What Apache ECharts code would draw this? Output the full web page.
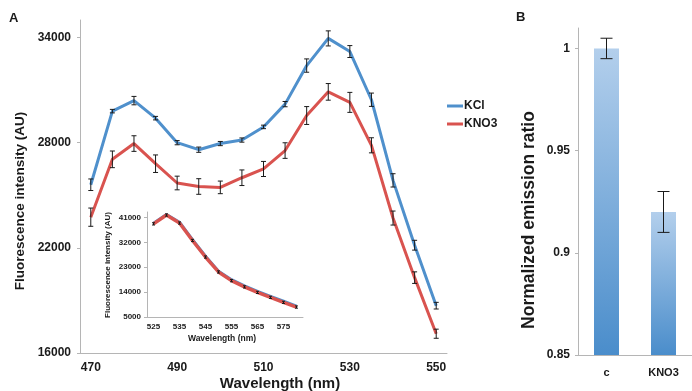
<!DOCTYPE html>
<html><head><meta charset="utf-8">
<script src="https://cdn.jsdelivr.net/npm/echarts@6/dist/echarts.min.js"></script>
<style>html,body{margin:0;padding:0;background:#fff}#c{width:692px;height:391px}</style>
</head><body><div id="c"></div>
<script>
// ---- Panel A main data ----
const wavelengths = ['470','475','480','485','490','495','500','505','510','515','520','525','530','535','540','545','550'];
const kclValues  = [25600, 29800, 30400, 29400, 28000, 27600, 27950, 28150, 28900, 30200, 32400, 33950, 33200, 30450, 25850, 22150, 18700];
const kclErr     = [330, 100, 240, 100, 120, 150, 120, 120, 100, 150, 380, 430, 340, 380, 380, 280, 190];
const kno3Values = [23750, 27050, 27950, 26800, 25700, 25500, 25450, 26000, 26500, 27550, 29550, 30900, 30300, 27850, 23700, 20300, 17100];
const kno3Err    = [520, 475, 445, 500, 390, 445, 360, 445, 430, 445, 510, 475, 570, 430, 400, 330, 260];
const mainYTicks = [16000, 22000, 28000, 34000];

// ---- Panel A inset data ----
const insetWavelengths = ['525','530','535','540','545','550','555','560','565','570','575','580'];
const insetKcl  = [38900, 42100, 39300, 33000, 27000, 21600, 18500, 16300, 14300, 12500, 10700, 8900];
const insetKno3 = [38700, 41900, 39000, 32700, 26700, 21300, 18150, 15900, 13900, 12100, 10300, 8600];
const insetErr  = [400, 400, 400, 400, 400, 400, 400, 400, 400, 400, 400, 400];
const insetYTicks = [5000, 14000, 23000, 32000, 41000];

// ---- Panel B data ----
const barCategories = ['c', 'KNO3'];
const ratioValues = [1.0, 0.92];
const ratioErr = [0.005, 0.01];
const barYTicks = [0.85, 0.9, 0.95, 1];

const FONT = '"Liberation Sans", Arial, sans-serif';
const AXIS_GRAY = '#b5b5b5';
const BLUE = '#4f90cc';
const RED = '#d9534f';

function errData(vals, errs) { return vals.map((v, i) => [i, v - errs[i], v + errs[i]]); }
function errRender(cap) {
  return function (params, api) {
    const x = api.value(0);
    const lo = api.coord([x, api.value(1)]);
    const hi = api.coord([x, api.value(2)]);
    const st = { stroke: '#1a1a1a', lineWidth: 1 };
    return { type: 'group', children: [
      { type: 'line', shape: { x1: lo[0], y1: lo[1], x2: hi[0], y2: hi[1] }, style: st },
      { type: 'line', shape: { x1: lo[0] - cap, y1: lo[1], x2: lo[0] + cap, y2: lo[1] }, style: st },
      { type: 'line', shape: { x1: hi[0] - cap, y1: hi[1], x2: hi[0] + cap, y2: hi[1] }, style: st }
    ]};
  };
}
const lbl = (size) => ({ color: '#1a1a1a', fontFamily: FONT, fontWeight: 'bold', fontSize: size });
const plain = v => String(+(+v).toFixed(2));

const chart = echarts.init(document.getElementById('c'), null, { renderer: 'canvas' });
chart.setOption({
  animation: false,
  backgroundColor: '#fff',
  textStyle: { fontFamily: FONT },
  legend: {
    data: ['KCl', 'KNO3'], orient: 'vertical', left: 442, top: 95, itemGap: 6,
    icon: 'rect', itemWidth: 16, itemHeight: 3,
    textStyle: { color: '#1a1a1a', fontFamily: FONT, fontWeight: 'bold', fontSize: 12, padding: [0, 0, 0, -4] },
    selectedMode: false
  },
  grid: [
    { left: 80, top: 20, width: 367, height: 333 },
    { left: 147, top: 212, width: 156, height: 105 },
    { left: 578, top: 28, width: 121, height: 327 }
  ],
  xAxis: [
    { gridIndex: 0, type: 'category', data: wavelengths, boundaryGap: true,
      axisLine: { lineStyle: { color: AXIS_GRAY, width: 1 } },
      axisTick: { interval: 0, length: 3, lineStyle: { color: AXIS_GRAY } },
      axisLabel: Object.assign({ interval: 3, margin: 9 }, lbl(12)), splitLine: { show: false } },
    { gridIndex: 1, type: 'category', data: insetWavelengths, boundaryGap: true,
      axisLine: { lineStyle: { color: AXIS_GRAY, width: 1 } },
      axisTick: { interval: 0, length: 3, lineStyle: { color: AXIS_GRAY } },
      axisLabel: Object.assign({ interval: 1, margin: 6 }, lbl(8)), splitLine: { show: false } },
    { gridIndex: 2, type: 'category', data: barCategories, boundaryGap: true,
      axisLine: { lineStyle: { color: AXIS_GRAY, width: 1 } },
      axisTick: { interval: 0, length: 3, lineStyle: { color: AXIS_GRAY } },
      axisLabel: Object.assign({ interval: 0, margin: 12 }, lbl(11)), splitLine: { show: false } }
  ],
  yAxis: [
    { gridIndex: 0, type: 'value', min: 16000, max: 35000, interval: 6000,
      axisLine: { show: true, lineStyle: { color: AXIS_GRAY, width: 1 } },
      axisTick: { show: true, length: 3, customValues: mainYTicks, lineStyle: { color: AXIS_GRAY } },
      axisLabel: Object.assign({ customValues: mainYTicks, margin: 9, formatter: plain }, lbl(12)), splitLine: { show: false } },
    { gridIndex: 1, type: 'value', min: 5000, max: 43000, interval: 9000,
      axisLine: { show: true, lineStyle: { color: AXIS_GRAY, width: 1 } },
      axisTick: { show: true, length: 3, customValues: insetYTicks, lineStyle: { color: AXIS_GRAY } },
      axisLabel: Object.assign({ customValues: insetYTicks, margin: 6, formatter: plain }, lbl(8)), splitLine: { show: false } },
    { gridIndex: 2, type: 'value', min: 0.85, max: 1.01, interval: 0.05,
      axisLine: { show: true, lineStyle: { color: AXIS_GRAY, width: 1 } },
      axisTick: { show: true, length: 3, customValues: barYTicks, lineStyle: { color: AXIS_GRAY } },
      axisLabel: Object.assign({ customValues: barYTicks, margin: 8, formatter: plain }, lbl(12)), splitLine: { show: false } }
  ],
  series: [
    { name: 'KCl', type: 'line', xAxisIndex: 0, yAxisIndex: 0, data: kclValues, color: BLUE,
      symbol: 'none', lineStyle: { width: 3, color: BLUE }, z: 2 },
    { name: 'KNO3', type: 'line', xAxisIndex: 0, yAxisIndex: 0, data: kno3Values, color: RED,
      symbol: 'none', lineStyle: { width: 3, color: RED }, z: 2 },
    { name: 'KCl err', type: 'custom', xAxisIndex: 0, yAxisIndex: 0, data: errData(kclValues, kclErr),
      encode: { x: 0, y: [1, 2] }, renderItem: errRender(2.5), z: 5 },
    { name: 'KNO3 err', type: 'custom', xAxisIndex: 0, yAxisIndex: 0, data: errData(kno3Values, kno3Err),
      encode: { x: 0, y: [1, 2] }, renderItem: errRender(2.5), z: 5 },
    { name: 'KCl inset', type: 'line', xAxisIndex: 1, yAxisIndex: 1, data: insetKcl,
      symbol: 'none', lineStyle: { width: 3, color: BLUE }, z: 2 },
    { name: 'KNO3 inset', type: 'line', xAxisIndex: 1, yAxisIndex: 1, data: insetKno3,
      symbol: 'none', lineStyle: { width: 3.5, color: RED }, z: 3 },
    { name: 'inset err', type: 'custom', xAxisIndex: 1, yAxisIndex: 1, data: errData(insetKno3, insetErr),
      encode: { x: 0, y: [1, 2] }, renderItem: errRender(1.5), z: 5 },
    { name: 'ratio', type: 'bar', xAxisIndex: 2, yAxisIndex: 2, data: ratioValues, barWidth: 25,
      itemStyle: { color: new echarts.graphic.LinearGradient(0, 0, 0, 1, [
        { offset: 0, color: '#b3cfec' }, { offset: 1, color: '#4a8dcb' }]) }, z: 2 },
    { name: 'ratio err', type: 'custom', xAxisIndex: 2, yAxisIndex: 2, data: errData(ratioValues, ratioErr),
      encode: { x: 0, y: [1, 2] }, renderItem: errRender(6), z: 5 }
  ],
  graphic: [
    { type: 'text', left: 9, top: 12, style: { text: 'A', font: 'bold 13px ' + FONT, fill: '#1a1a1a' } },
    { type: 'text', left: 516, top: 11, style: { text: 'B', font: 'bold 13px ' + FONT, fill: '#1a1a1a' } },
    { type: 'text', x: 20, y: 201, rotation: Math.PI / 2,
      style: { text: 'Fluorescence intensity (AU)', font: 'bold 13.5px ' + FONT, fill: '#1a1a1a', align: 'center', verticalAlign: 'middle' } },
    { type: 'text', x: 280, y: 384,
      style: { text: 'Wavelength (nm)', font: 'bold 15px ' + FONT, fill: '#1a1a1a', align: 'center', verticalAlign: 'middle' } },
    { type: 'text', x: 108, y: 265, rotation: Math.PI / 2, z: 10,
      style: { text: 'Fluorescence intensity (AU)', font: 'bold 8px ' + FONT, fill: '#1a1a1a', align: 'center', verticalAlign: 'middle' } },
    { type: 'text', x: 222, y: 339, z: 10,
      style: { text: 'Wavelength (nm)', font: 'bold 8.5px ' + FONT, fill: '#1a1a1a', align: 'center', verticalAlign: 'middle' } },
    { type: 'text', x: 529, y: 220, rotation: Math.PI / 2,
      style: { text: 'Normalized emission ratio', font: 'bold 17.5px ' + FONT, fill: '#1a1a1a', align: 'center', verticalAlign: 'middle' } }
  ]
});
</script></body></html>
